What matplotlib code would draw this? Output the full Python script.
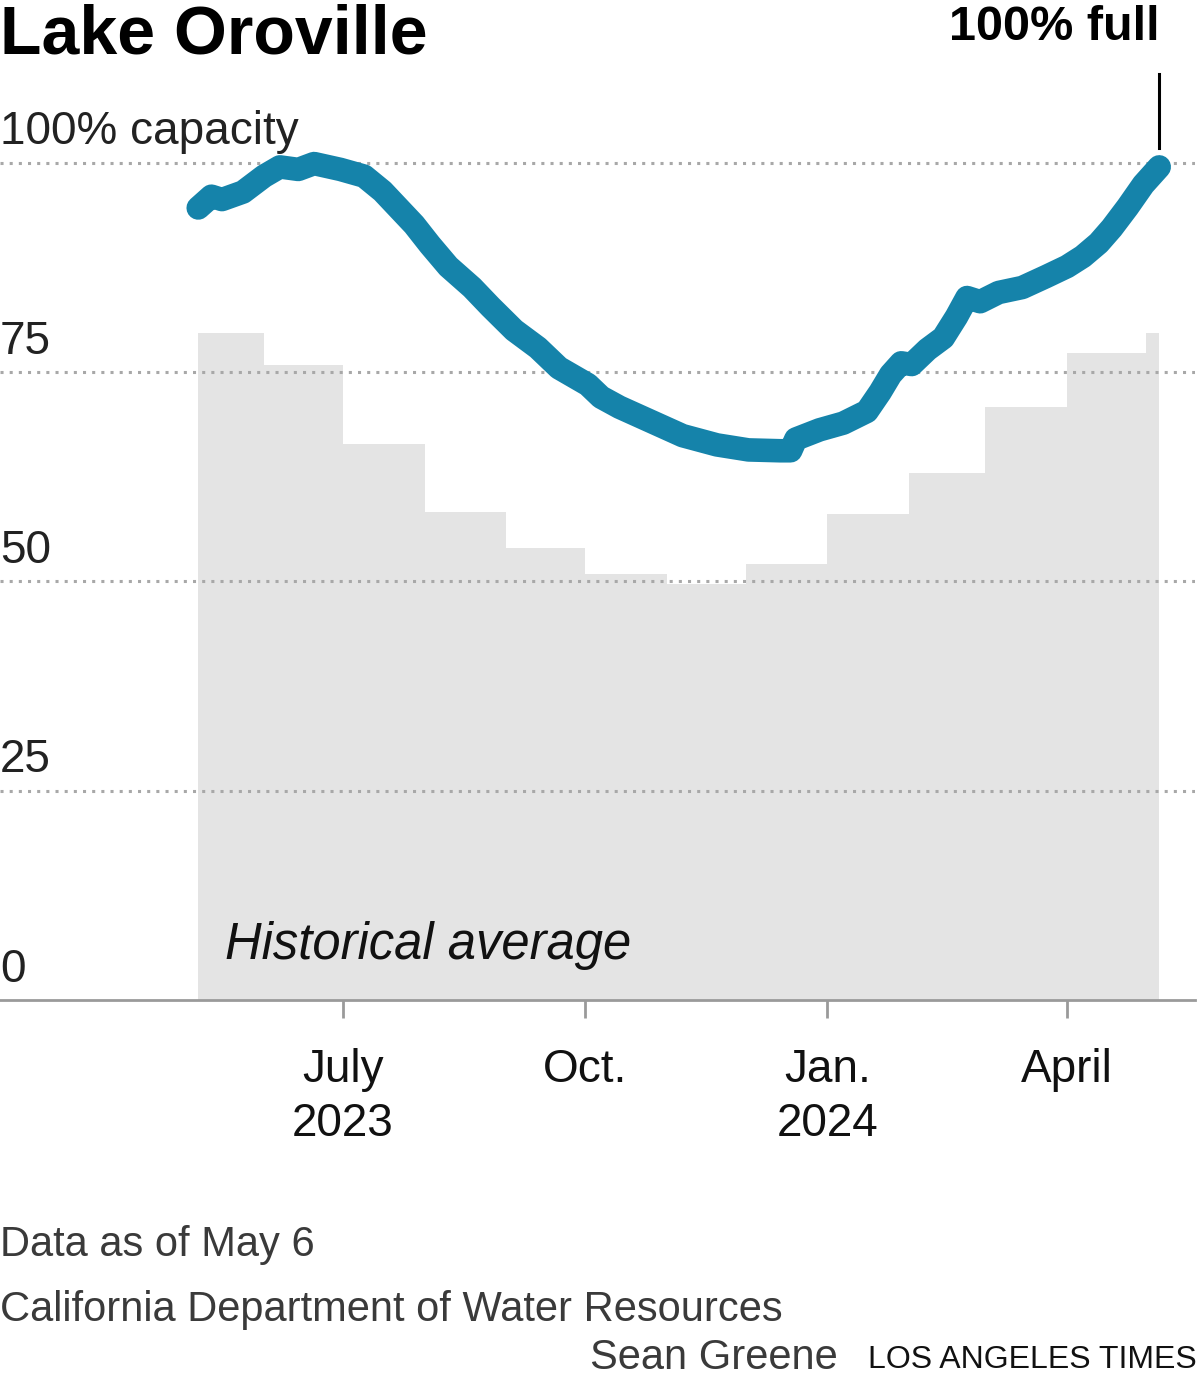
"""
Lake Oroville storage vs. historical average
"""
import datetime as dt
import matplotlib
matplotlib.use('Agg')
import matplotlib.pyplot as plt
import matplotlib.transforms as mtransforms

plt.rcParams['font.family'] = ['Liberation Sans', 'DejaVu Sans']

# Storage (% of capacity)
dates = ['2023-05-07', '2023-05-12', '2023-05-16', '2023-05-24', '2023-06-01',
         '2023-06-07', '2023-06-14', '2023-06-20', '2023-06-30', '2023-07-09',
         '2023-07-16', '2023-07-28', '2023-08-03', '2023-08-10', '2023-08-19',
         '2023-08-26', '2023-09-04', '2023-09-13', '2023-09-21', '2023-10-02',
         '2023-10-07', '2023-10-14', '2023-10-26', '2023-11-07', '2023-11-20',
         '2023-12-02', '2023-12-14', '2023-12-18', '2023-12-20', '2023-12-29',
         '2024-01-07', '2024-01-16', '2024-01-21', '2024-01-25', '2024-01-29',
         '2024-02-02', '2024-02-08', '2024-02-14', '2024-02-19', '2024-02-23',
         '2024-02-28', '2024-03-06', '2024-03-15', '2024-03-24', '2024-04-01',
         '2024-04-07', '2024-04-13', '2024-04-18', '2024-04-24', '2024-04-30',
         '2024-05-06']
storage = [94.6, 96.0, 95.6, 96.5, 98.4,
           99.5, 99.2, 99.9, 99.2, 98.4,
           96.6, 92.6, 90.2, 87.6, 85.1,
           82.8, 80.0, 77.9, 75.5, 73.5,
           72.0, 70.8, 69.1, 67.4, 66.3,
           65.7, 65.6, 65.6, 67.0, 68.1,
           68.9, 70.3, 72.6, 74.7, 76.1,
           75.9, 77.7, 79.1, 81.6, 83.9,
           83.4, 84.5, 85.1, 86.4, 87.6,
           88.8, 90.4, 92.2, 94.7, 97.4,
           99.5]

# Monthly historical average (% of capacity)
hist_dates = ['2023-05-07', '2023-06-01', '2023-07-01', '2023-08-01', '2023-09-01',
              '2023-10-01', '2023-11-01', '2023-12-01', '2024-01-01', '2024-02-01',
              '2024-03-01', '2024-04-01', '2024-05-01', '2024-05-06']
hist_avg = [79.7, 75.9, 66.4, 58.3, 54.0,
            50.9, 49.7, 52.1, 58.1, 63.0,
            70.8, 77.3, 79.7, 79.7]

tick_dates = ['2023-07-01', '2023-10-01', '2024-01-01', '2024-04-01']
tick_labels = ['July\n2023', 'Oct.', 'Jan.\n2024', 'April']

to_dt = lambda s: dt.datetime.strptime(s, '%Y-%m-%d')
x = [to_dt(d) for d in dates]
hx = [to_dt(d) for d in hist_dates]
tx = [to_dt(d) for d in tick_dates]

W, H = 1200, 1391
fig = plt.figure(figsize=(12, 13.91), dpi=100)
# axes: y=0 at pixel 1000, y=110 at pixel 79
ax = fig.add_axes([0, (H - 1000) / H, 1195 / W, 921 / H])

ref = dt.datetime(2023, 7, 1)
ax.set_xlim(ref - dt.timedelta(days=130.3), ref + dt.timedelta(days=323.6))
ax.set_ylim(0, 110)

ax.fill_between(hx, hist_avg, 0, step='post', color='#e4e4e4', lw=0, zorder=1)

for v in [25, 50, 75, 100]:
    ax.axhline(v, color='#a8a8a8', lw=2.2, linestyle=(0, (1, 2)), zorder=2)
ax.axhline(0, color='#9a9a9a', lw=2, zorder=3, clip_on=False)

ax.plot(x, storage, color='#1583aa', lw=17, solid_capstyle='round',
        solid_joinstyle='round', zorder=4)

for s in ax.spines.values():
    s.set_visible(False)
ax.set_yticks([])
ax.set_xticks(tx)
ax.set_xticklabels([])
ax.tick_params(axis='x', length=13, width=2, color='#9a9a9a', direction='out')

# month labels
trans = mtransforms.blended_transform_factory(ax.transData, fig.transFigure)
for d, lab in zip(tx, tick_labels):
    ax.text(d, (H - 1048) / H, lab, transform=trans, ha='center', va='top',
            fontsize=33, color='#111111', linespacing=1.3)

# y labels above gridlines
ylab = {100: '100% capacity', 75: '75', 50: '50', 25: '25', 0: '0'}
for v, lab in ylab.items():
    ax.text(0.0, v + 1.0, lab, transform=ax.get_yaxis_transform(), ha='left',
            va='bottom', fontsize=33, color='#222222')

ax.text(to_dt('2023-05-17'), 6.5, 'Historical average', ha='left', va='center',
        fontsize=36.5, style='italic', color='#111111', zorder=5)

# annotation
end = x[-1]
ax.plot([end, end], [101.8, 110.6], color='black', lw=2.2, clip_on=False, zorder=5)
ax.text(end, 113.5, '100% full', ha='right', va='bottom', fontsize=35,
        fontweight='bold', color='black')

fig.text(0.0, 1 - 35 / H, 'Lake Oroville', ha='left', va='center',
         fontsize=49, fontweight='bold', color='black')

fig.text(0.0, 1 - 1245 / H, 'Data as of May 6', ha='left', va='center',
         fontsize=30, color='#3a3a3a')
fig.text(0.0, 1 - 1310 / H, 'California Department of Water Resources',
         ha='left', va='center', fontsize=30, color='#3a3a3a')
fig.text(838 / W, 1 - 1358 / H, 'Sean Greene', ha='right', va='center',
         fontsize=30, color='#3a3a3a')
fig.text(1197 / W, 1 - 1360 / H, 'LOS ANGELES TIMES', ha='right', va='center',
         fontsize=23, color='#111111')

fig.savefig('out.png', dpi=100)
